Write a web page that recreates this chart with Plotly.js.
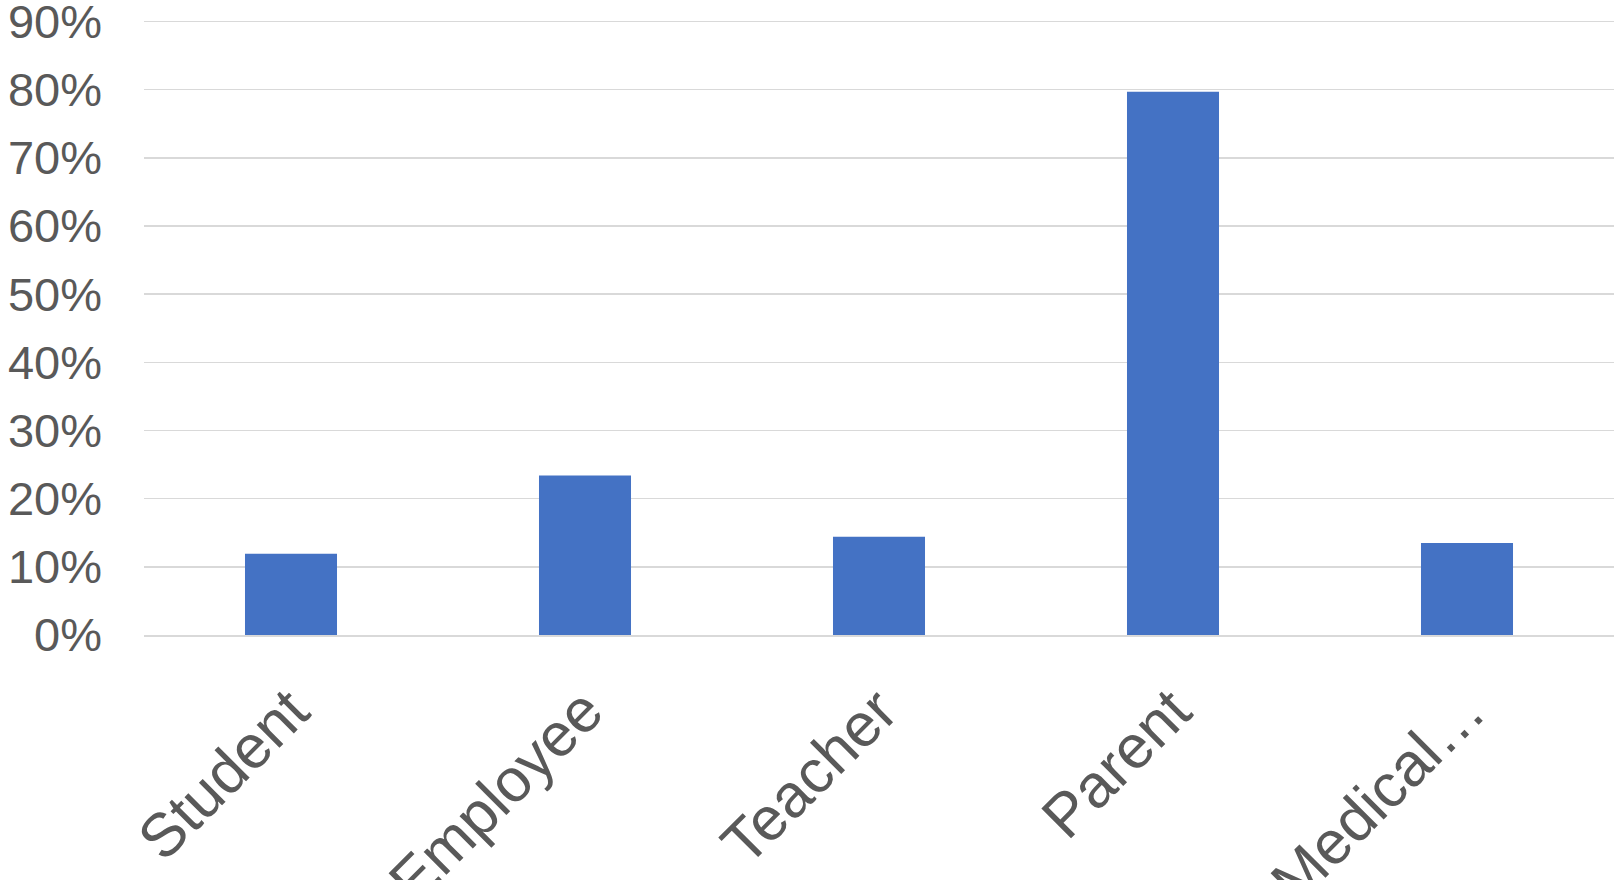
<!DOCTYPE html>
<html>
<head>
<meta charset="utf-8">
<script src="https://cdn.plot.ly/plotly-3.0.1.min.js"></script>
<style>html,body{margin:0;padding:0;background:#fff;}#chart{width:1614px;height:880px;}</style>
</head>
<body>
<div id="chart"></div>
<script>
const categories = ["Student", "Employee", "Teacher", "Parent", "Medical…"];
const values = [0.119, 0.234, 0.144, 0.797, 0.135];
const yTickVals = [0, 0.1, 0.2, 0.3, 0.4, 0.5, 0.6, 0.7, 0.8, 0.9];

const trace = {
  type: "bar",
  x: categories,
  y: values,
  marker: {color: "#4472C4"},
  hoverinfo: "x+y"
};

const layout = {
  width: 1614,
  height: 880,
  margin: {l: 144, r: 0, t: 18, b: 245},
  paper_bgcolor: "#ffffff",
  plot_bgcolor: "#ffffff",
  bargap: 0.687,
  showlegend: false,
  font: {family: "Liberation Sans, Arial, sans-serif", color: "#595959", size: 47},
  xaxis: {
    type: "category",
    tickangle: -45,
    showgrid: false,
    showline: true,
    linecolor: "#d9d9d9",
    linewidth: 1.5,
    ticks: "",
    ticklabelstandoff: 14,
    tickfont: {family: "Liberation Sans, Arial, sans-serif", color: "#595959", size: 61}
  },
  yaxis: {
    range: [0, 0.905],
    tickvals: yTickVals,
    tickformat: ".0%",
    ticklabeloverflow: "allow",
    showgrid: true,
    gridcolor: "#d9d9d9",
    gridwidth: 1.5,
    zeroline: false,
    showline: false,
    ticks: "",
    ticklabelstandoff: 41,
    tickfont: {family: "Liberation Sans, Arial, sans-serif", color: "#595959", size: 47}
  }
};

Plotly.newPlot("chart", [trace], layout, {displayModeBar: false, staticPlot: true});
</script>
</body>
</html>
